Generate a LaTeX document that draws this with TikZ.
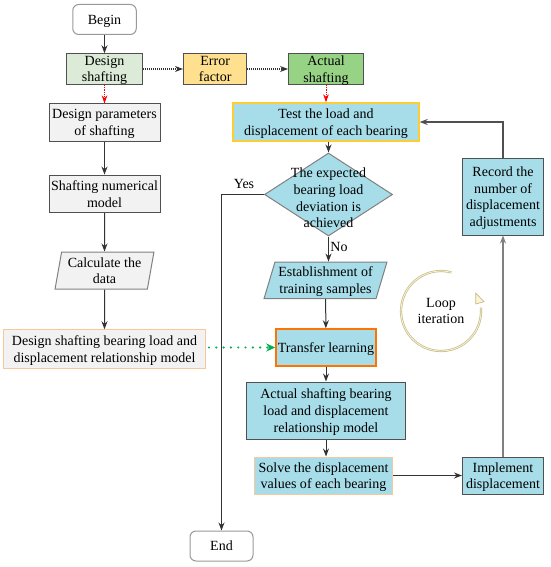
\documentclass[tikz,border=0pt]{standalone}
\usepackage{fontspec}
\setmainfont{Liberation Serif}
\usetikzlibrary{arrows.meta,shapes.geometric}
\definecolor{edgegray}{HTML}{505050}
\definecolor{paleblue}{HTML}{A6DDE9}
\definecolor{palegray}{HTML}{F2F2F2}
\definecolor{palegreen}{HTML}{DCEBD8}
\definecolor{midgreen}{HTML}{97D385}
\definecolor{paleyellow}{HTML}{FEE08F}
\definecolor{softorange}{HTML}{F8C79B}
\definecolor{testyellow}{HTML}{FFCC33}
\definecolor{loopedge}{HTML}{C4BA8C}
\definecolor{loopfill}{HTML}{FBF3D2}
\definecolor{dotgreen}{HTML}{00B050}
\tikzset{
  base/.style={draw=edgegray,line width=1pt,align=center,inner sep=0pt,text depth=0pt,
    font=\fontsize{14}{16.7}\selectfont},
  block/.style={base,rectangle},
  terminal/.style={base,rectangle,rounded corners=6pt,draw=gray!80,fill=white},
  slanted/.style={base,trapezium,trapezium stretches=true,draw=gray},
  decision/.style={base,diamond,draw=gray,fill=paleblue},
  flow/.style={line width=1pt,draw=black!80,-{Stealth[length=8pt,width=6pt]}},
  dotflow/.style={flow,densely dotted,line width=1.1pt},
  redflow/.style={line width=0.9pt,densely dotted,draw=red,-{Stealth[length=8pt,width=5.5pt]}},
  greenflow/.style={line width=2.4pt,line cap=round,dash pattern=on 0pt off 7.3pt,draw=dotgreen,
    -{Stealth[length=9pt,width=8pt]}},
  plain/.style={font=\fontsize{14}{16.7}\selectfont,align=center,inner sep=0pt,text depth=0pt}
}
\begin{document}
\begin{tikzpicture}[x=1pt,y=-1pt]
\useasboundingbox (0,0) rectangle (550,567);
% left column
\node[terminal,minimum width=63.5pt,minimum height=30pt] (begin) at (104.5,19.5) {Begin};
\node[block,fill=palegreen,minimum width=75.5pt,minimum height=30.5pt] (design) at (104.5,69) {Design\\shafting};
\node[block,fill=palegray,minimum width=111pt,minimum height=37pt] (params) at (104.5,122.5) {Design parameters\\of shafting};
\node[block,fill=palegray,minimum width=111pt,minimum height=37.5pt] (numeric) at (104.5,193.8) {Shafting numerical\\model};
\node[slanted,fill=palegray,trapezium left angle=78,trapezium right angle=102,minimum width=99pt,minimum height=37pt] (calc) at (104.5,270.5) {Calculate the\\data};
\node[block,fill=palegray,draw=softorange,minimum width=202pt,minimum height=38.5pt] (designmodel) at (104.5,349) {Design shafting bearing load and\\displacement relationship model};
% top row
\node[block,fill=paleyellow,minimum width=63.5pt,minimum height=30.5pt] (error) at (215.2,69) {Error\\factor};
\node[block,fill=midgreen,minimum width=75pt,minimum height=30.5pt] (actual) at (326,69) {Actual\\shafting};
% right column
\node[block,fill=paleblue,draw=testyellow,line width=1.4pt,minimum width=186pt,minimum height=38pt] (test) at (326,122) {Test the load and\\displacement of each bearing};
\node[decision,minimum width=128pt,minimum height=83pt,
  label={[plain,yshift=-3.5pt]center:The expected\\bearing load\\deviation is\\achieved}] (check) at (328.5,194.5) {};
\node[slanted,fill=paleblue,trapezium left angle=69,trapezium right angle=111,minimum width=123pt,minimum height=36.5pt] (samples) at (325.5,280.3) {Establishment of\\training samples};
\node[block,fill=paleblue,draw=orange!90!red,line width=1.5pt,minimum width=100pt,minimum height=37pt] (transfer) at (326,347.5) {Transfer learning};
\node[block,fill=paleblue,minimum width=158.5pt,minimum height=57pt] (actualmodel) at (326,410.5) {Actual shafting bearing\\load and displacement\\relationship model};
\node[block,fill=paleblue,draw=softorange,minimum width=138pt,minimum height=37pt] (solve) at (323.5,475.5) {Solve the displacement\\values of each bearing};
\node[block,fill=paleblue,minimum width=81pt,minimum height=37pt] (implement) at (503,475.5) {Implement\\displacement};
\node[block,fill=paleblue,minimum width=81pt,minimum height=77pt] (record) at (503,196.5) {Record the\\number of\\displacement\\adjustments};
\node[terminal,minimum width=63pt,minimum height=30pt] (finish) at (221.5,546) {End};
% labels
\node[plain] (yes) at (244,184) {Yes};
\node[plain] (no) at (339,247) {No};
\node[plain] (loop) at (441,311) {Loop\\iteration};
% connectors
\draw[flow] (begin) -- (design);
\draw[redflow] (design) -- (params);
\draw[flow] (params) -- (numeric);
\draw[flow] (numeric) -- (calc);
\draw[flow] (calc) -- (designmodel);
\draw[dotflow] (design) -- (error);
\draw[dotflow] (error) -- (actual);
\draw[redflow] (actual) -- (test);
\draw[flow] (check.north |- test.south) -- (check.north);
\draw[flow] (check.south) -- (check.south |- samples.north);
\draw[flow] (samples) -- (transfer);
\draw[flow] (transfer) -- (actualmodel);
\draw[flow] (actualmodel.south) -- (actualmodel.south |- solve.north);
\draw[flow,line width=1.2pt] (solve.east) -- (implement.west);
\draw[flow,draw=gray,line width=1.2pt] (implement) -- (record);
\draw[flow,draw=edgegray,line width=1.2pt] (record.north) |- (test.east);
\draw[flow] (check.west) -| (finish.north);
\draw[greenflow] (designmodel.east |- transfer.west) ++(3,0) coordinate (greenstart) (greenstart) -- (transfer.west);
% loop ring
\draw[loopedge,line width=2.2pt] (451.4,272.4) arc[start angle=75,end angle=365,radius=40pt];
\draw[loopfill,line width=0.8pt] (451.4,272.4) arc[start angle=75,end angle=365,radius=40pt];
\draw[loopedge,fill=loopfill,line width=0.7pt] (475.7,293) -- (484,301.7) -- (475.7,304) -- cycle;
\end{tikzpicture}
\end{document}
